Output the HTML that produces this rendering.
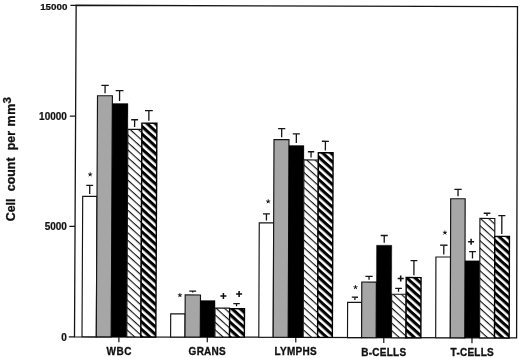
<!DOCTYPE html>
<html><head><meta charset="utf-8"><title>chart</title>
<style>
html,body{margin:0;padding:0;background:#fff;}
body{width:520px;height:358px;overflow:hidden;font-family:"Liberation Sans",sans-serif;}
svg{display:block;filter:grayscale(100%);}
text{font-family:"Liberation Sans",sans-serif;font-weight:bold;fill:#111;stroke:#111;stroke-width:0.3px;}
</style></head><body>
<svg width="520" height="358" viewBox="0 0 520 358">
<defs>
<pattern id="lt" patternUnits="userSpaceOnUse" width="12" height="5.57" patternTransform="rotate(42)">
<rect x="0" y="0" width="12" height="1.15" fill="#111"/>
</pattern>
<pattern id="hv" patternUnits="userSpaceOnUse" width="12" height="5.57" patternTransform="rotate(42)">
<rect x="0" y="0" width="12" height="3.1" fill="#000"/>
</pattern>
</defs>
<rect width="520" height="358" fill="#fff"/>

<polygon points="76.15,5.25 517.5,6.6 516.6,337.9 385,337.72 296,337.3 207,337.05 74.5,336.8" fill="none" stroke="#141414" stroke-width="1.3"/>
<line x1="70.45" y1="5.28" x2="76.15" y2="5.3" stroke="#141414" stroke-width="1.2"/>
<text x="67.4" y="9.9" font-size="9.8" text-anchor="end" style="stroke-width:0.22px">15000</text>
<line x1="69.85" y1="116.08" x2="75.55" y2="116.1" stroke="#141414" stroke-width="1.2"/>
<text x="66.9" y="120.4" font-size="10" text-anchor="end" style="stroke-width:0.22px">10000</text>
<line x1="69.30" y1="226.28" x2="75.0" y2="226.3" stroke="#141414" stroke-width="1.2"/>
<text x="66.9" y="229.9" font-size="10" text-anchor="end" style="stroke-width:0.22px">5000</text>
<line x1="68.80" y1="336.78000000000003" x2="74.5" y2="336.8" stroke="#141414" stroke-width="1.2"/>
<text x="66.9" y="341.0" font-size="10" text-anchor="end" style="stroke-width:0.22px">0</text>
<g transform="matrix(1 0.0027 -0.005 1 118.9 336.9)">
<line x1="0" y1="0" x2="0" y2="5.3" stroke="#141414" stroke-width="1.2"/>
<rect x="-36.90" y="-140.50" width="14.30" height="140.50" fill="#fff" stroke="#141414" stroke-width="1.15"/>
<rect x="-22.60" y="-241.10" width="14.90" height="241.10" fill="#a6a6a6" stroke="#141414" stroke-width="1.15"/>
<rect x="-7.70" y="-233.40" width="15.60" height="233.40" fill="#000" stroke="#000" stroke-width="0.3"/>
<rect x="7.90" y="-207.60" width="14.05" height="207.60" fill="#fff"/>
<rect x="7.90" y="-207.60" width="14.05" height="207.60" fill="url(#lt)" stroke="#141414" stroke-width="1.15"/>
<rect x="21.95" y="-213.80" width="14.95" height="213.80" fill="#fff"/>
<rect x="21.95" y="-213.80" width="14.95" height="213.80" fill="url(#hv)" stroke="#000" stroke-width="1.4"/>
<path d="M-33.36,-151.40H-26.46M-29.91,-151.40V-142.90" stroke="#141414" stroke-width="1.3" fill="none"/>
<path d="M-18.76,-251.40H-11.36M-15.06,-251.40V-243.50" stroke="#141414" stroke-width="1.3" fill="none"/>
<path d="M-4.43,-246.20H3.37M-0.53,-246.20V-235.80" stroke="#141414" stroke-width="1.3" fill="none"/>
<path d="M11.21,-217.20H18.11M14.66,-217.20V-210.00" stroke="#141414" stroke-width="1.3" fill="none"/>
<path d="M24.97,-226.30H32.77M28.87,-226.30V-216.20" stroke="#141414" stroke-width="1.3" fill="none"/>
</g>
<g transform="matrix(1 0.0027 -0.0045 1 207.3 337.05)">
<line x1="0" y1="0" x2="0" y2="5.3" stroke="#141414" stroke-width="1.2"/>
<rect x="-36.70" y="-23.05" width="14.40" height="23.05" fill="#fff" stroke="#141414" stroke-width="1.15"/>
<rect x="-22.30" y="-42.05" width="15.30" height="42.05" fill="#a6a6a6" stroke="#141414" stroke-width="1.15"/>
<rect x="-7.00" y="-36.45" width="14.60" height="36.45" fill="#000" stroke="#000" stroke-width="0.3"/>
<rect x="7.60" y="-28.95" width="14.60" height="28.95" fill="#fff"/>
<rect x="7.60" y="-28.95" width="14.60" height="28.95" fill="url(#lt)" stroke="#141414" stroke-width="1.15"/>
<rect x="22.20" y="-28.45" width="14.85" height="28.45" fill="#fff"/>
<rect x="22.20" y="-28.45" width="14.85" height="28.45" fill="url(#hv)" stroke="#000" stroke-width="1.4"/>
<path d="M-18.21,-45.95H-11.31M-14.76,-45.95V-44.45" stroke="#141414" stroke-width="1.3" fill="none"/>
<path d="M25.85,-33.55H32.35M29.10,-33.55V-30.85" stroke="#141414" stroke-width="1.3" fill="none"/>
</g>
<g transform="matrix(1 0.0027 -0.004 1 295.8 337.3)">
<line x1="0" y1="0" x2="0" y2="5.3" stroke="#141414" stroke-width="1.2"/>
<rect x="-37.00" y="-114.30" width="14.40" height="114.30" fill="#fff" stroke="#141414" stroke-width="1.15"/>
<rect x="-22.60" y="-197.60" width="15.00" height="197.60" fill="#a6a6a6" stroke="#141414" stroke-width="1.15"/>
<rect x="-7.60" y="-191.80" width="15.00" height="191.80" fill="#000" stroke="#000" stroke-width="0.3"/>
<rect x="7.40" y="-177.40" width="14.40" height="177.40" fill="#fff"/>
<rect x="7.40" y="-177.40" width="14.40" height="177.40" fill="url(#lt)" stroke="#141414" stroke-width="1.15"/>
<rect x="21.80" y="-184.60" width="14.75" height="184.60" fill="#fff"/>
<rect x="21.80" y="-184.60" width="14.75" height="184.60" fill="url(#hv)" stroke="#000" stroke-width="1.4"/>
<path d="M-33.29,-123.40H-26.39M-29.84,-123.40V-116.70" stroke="#141414" stroke-width="1.3" fill="none"/>
<path d="M-18.53,-208.70H-11.33M-14.93,-208.70V-200.00" stroke="#141414" stroke-width="1.3" fill="none"/>
<path d="M-3.81,-203.40H3.29M-0.26,-203.40V-194.20" stroke="#141414" stroke-width="1.3" fill="none"/>
<path d="M11.36,-185.60H17.66M14.51,-185.60V-179.80" stroke="#141414" stroke-width="1.3" fill="none"/>
<path d="M25.32,-196.10H32.32M28.82,-196.10V-187.00" stroke="#141414" stroke-width="1.3" fill="none"/>
</g>
<g transform="matrix(1 0.0027 -0.0033 1 383.8 337.75)">
<line x1="0" y1="0" x2="0" y2="5.3" stroke="#141414" stroke-width="1.2"/>
<rect x="-36.30" y="-35.25" width="14.10" height="35.25" fill="#fff" stroke="#141414" stroke-width="1.15"/>
<rect x="-22.20" y="-55.65" width="14.60" height="55.65" fill="#a6a6a6" stroke="#141414" stroke-width="1.15"/>
<rect x="-7.60" y="-92.55" width="15.30" height="92.55" fill="#000" stroke="#000" stroke-width="0.3"/>
<rect x="7.70" y="-43.55" width="14.50" height="43.55" fill="#fff"/>
<rect x="7.70" y="-43.55" width="14.50" height="43.55" fill="url(#lt)" stroke="#141414" stroke-width="1.15"/>
<rect x="22.20" y="-60.25" width="14.85" height="60.25" fill="#fff"/>
<rect x="22.20" y="-60.25" width="14.85" height="60.25" fill="url(#hv)" stroke="#000" stroke-width="1.4"/>
<path d="M-32.13,-40.45H-25.93M-29.03,-40.45V-37.65" stroke="#141414" stroke-width="1.3" fill="none"/>
<path d="M-18.60,-61.35H-11.30M-14.95,-61.35V-58.05" stroke="#141414" stroke-width="1.3" fill="none"/>
<path d="M-3.44,-102.25H3.66M0.11,-102.25V-94.95" stroke="#141414" stroke-width="1.3" fill="none"/>
<path d="M11.24,-49.35H17.94M14.59,-49.35V-45.95" stroke="#141414" stroke-width="1.3" fill="none"/>
<path d="M26.45,-77.15H33.35M29.90,-77.15V-62.65" stroke="#141414" stroke-width="1.3" fill="none"/>
</g>
<g transform="matrix(1 0.0027 -0.0027 1 472.0 337.85)">
<line x1="0" y1="0" x2="0" y2="5.3" stroke="#141414" stroke-width="1.2"/>
<rect x="-36.30" y="-80.75" width="14.60" height="80.75" fill="#fff" stroke="#141414" stroke-width="1.15"/>
<rect x="-21.70" y="-139.05" width="14.50" height="139.05" fill="#a6a6a6" stroke="#141414" stroke-width="1.15"/>
<rect x="-7.20" y="-77.05" width="14.80" height="77.05" fill="#000" stroke="#000" stroke-width="0.3"/>
<rect x="7.60" y="-119.45" width="14.90" height="119.45" fill="#fff"/>
<rect x="7.60" y="-119.45" width="14.90" height="119.45" fill="url(#lt)" stroke="#141414" stroke-width="1.15"/>
<rect x="22.50" y="-101.55" width="14.65" height="101.55" fill="#fff"/>
<rect x="22.50" y="-101.55" width="14.65" height="101.55" fill="url(#hv)" stroke="#000" stroke-width="1.4"/>
<path d="M-32.15,-92.55H-24.75M-28.45,-92.55V-83.15" stroke="#141414" stroke-width="1.3" fill="none"/>
<path d="M-18.00,-148.45H-10.70M-14.35,-148.45V-141.45" stroke="#141414" stroke-width="1.3" fill="none"/>
<path d="M-3.13,-86.15H3.67M0.27,-86.15V-79.45" stroke="#141414" stroke-width="1.3" fill="none"/>
<path d="M11.36,-124.65H18.06M14.71,-124.65V-121.85" stroke="#141414" stroke-width="1.3" fill="none"/>
<path d="M25.97,-122.35H33.07M29.52,-122.35V-103.95" stroke="#141414" stroke-width="1.3" fill="none"/>
</g>
<path d="M90.20,174.50L90.20,172.35M90.20,174.50L92.24,173.84M90.20,174.50L91.46,176.24M90.20,174.50L88.94,176.24M90.20,174.50L88.16,173.84" stroke="#111" stroke-width="0.95" stroke-linecap="butt" fill="none"/>
<circle cx="90.2" cy="174.5" r="0.7" fill="#111"/>
<path d="M179.90,295.30L179.90,293.15M179.90,295.30L181.94,294.64M179.90,295.30L181.16,297.04M179.90,295.30L178.64,297.04M179.90,295.30L177.86,294.64" stroke="#111" stroke-width="0.95" stroke-linecap="butt" fill="none"/>
<circle cx="179.9" cy="295.3" r="0.7" fill="#111"/>
<path d="M268.20,201.50L268.20,199.35M268.20,201.50L270.24,200.84M268.20,201.50L269.46,203.24M268.20,201.50L266.94,203.24M268.20,201.50L266.16,200.84" stroke="#111" stroke-width="0.95" stroke-linecap="butt" fill="none"/>
<circle cx="268.2" cy="201.5" r="0.7" fill="#111"/>
<path d="M355.50,287.30L355.50,285.15M355.50,287.30L357.54,286.64M355.50,287.30L356.76,289.04M355.50,287.30L354.24,289.04M355.50,287.30L353.46,286.64" stroke="#111" stroke-width="0.95" stroke-linecap="butt" fill="none"/>
<circle cx="355.5" cy="287.3" r="0.7" fill="#111"/>
<path d="M444.90,232.70L444.90,230.55M444.90,232.70L446.94,232.04M444.90,232.70L446.16,234.44M444.90,232.70L443.64,234.44M444.90,232.70L442.86,232.04" stroke="#111" stroke-width="0.95" stroke-linecap="butt" fill="none"/>
<circle cx="444.9" cy="232.7" r="0.7" fill="#111"/>
<path d="M220.40,296.0H226.40M223.4,293.00V299.00" stroke="#111" stroke-width="1.55" fill="none"/>
<path d="M236.10,293.9H242.10M239.1,290.90V296.90" stroke="#111" stroke-width="1.55" fill="none"/>
<path d="M397.70,278.4H403.70M400.7,275.40V281.40" stroke="#111" stroke-width="1.55" fill="none"/>
<path d="M468.10,241.7H474.10M471.1,238.70V244.70" stroke="#111" stroke-width="1.55" fill="none"/>
<text x="119.3" y="354.6" font-size="10" text-anchor="middle" letter-spacing="0.55">WBC</text>
<text x="207.3" y="354.9" font-size="10" text-anchor="middle" letter-spacing="0.25">GRANS</text>
<text x="295.7" y="355.2" font-size="10" text-anchor="middle" letter-spacing="0.25">LYMPHS</text>
<text x="383.8" y="355.5" font-size="10" text-anchor="middle" letter-spacing="0.25">B-CELLS</text>
<text x="472.3" y="355.8" font-size="10" text-anchor="middle" letter-spacing="0.25">T-CELLS</text>
<text transform="translate(15.1,221.3) rotate(-90)" font-size="12.4" >Cell</text>
<text transform="translate(15.1,191.2) rotate(-90)" font-size="12.4" >count</text>
<text transform="translate(15.1,150.2) rotate(-90)" font-size="12.4" >per</text>
<text transform="translate(15.1,126.5) rotate(-90)" font-size="12.4" letter-spacing="0.7">mm</text>
<text transform="translate(11.0,103.5) rotate(-90)" font-size="11.5" >3</text>
</svg></body></html>
